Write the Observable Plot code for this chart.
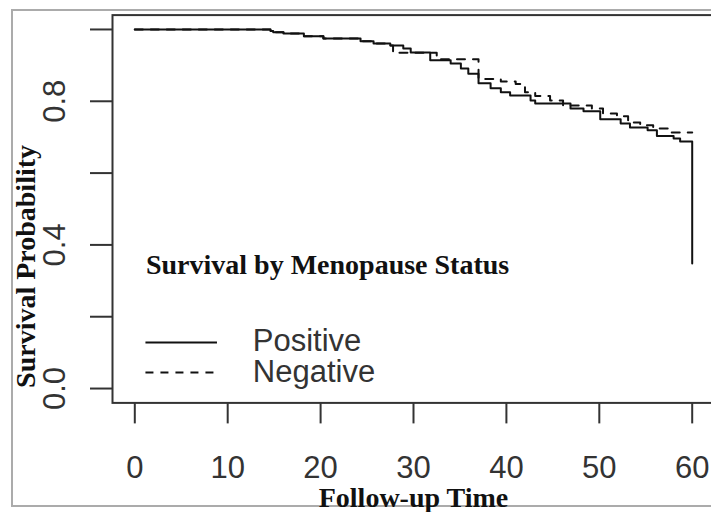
<!DOCTYPE html>
<html><head><meta charset="utf-8">
<script src="https://cdn.jsdelivr.net/npm/d3@7"></script>
<script src="https://cdn.jsdelivr.net/npm/@observablehq/plot@0.6"></script>
<style>
html,body{margin:0;padding:0;background:#fff;}
#wrap{position:relative;width:711px;height:512px;overflow:hidden;background:#fff;}
#border{position:absolute;left:11px;top:9px;width:720px;height:494px;border:2px solid #ababab;z-index:0;}
#chart{position:absolute;left:0;top:0;z-index:1;}
</style></head><body><div id="wrap"><div id="border"></div><div id="chart"></div></div>
<script>
// Kaplan-Meier step data (time, survival probability)
const positiveTime = [0, 14.6, 14.9, 16.0, 18.2, 20.3, 24.3, 25.7, 27.5, 28.9, 29.7, 31.8, 34.0, 35.1, 35.9, 37.0, 38.3, 39.4, 40.4, 42.6, 43.1, 46.9, 48.3, 50.1, 52.3, 53.3, 55.2, 56.2, 58.0, 58.7, 60, 60];
const positiveSurv = [1, 0.996, 0.992, 0.989, 0.981, 0.975, 0.967, 0.961, 0.955, 0.947, 0.936, 0.914, 0.905, 0.891, 0.877, 0.850, 0.836, 0.825, 0.816, 0.802, 0.794, 0.780, 0.772, 0.750, 0.738, 0.727, 0.719, 0.703, 0.696, 0.688, 0.688, 0.348];
const negativeTime = [0, 14.6, 14.9, 16.0, 18.2, 20.3, 24.3, 25.7, 27.5, 27.8, 32.5, 37.0, 39.4, 41.0, 42.0, 43.1, 44.7, 46.1, 49.2, 50.4, 51.9, 53.1, 54.4, 55.8, 57.6, 60];
const negativeSurv = [1, 0.996, 0.992, 0.989, 0.981, 0.975, 0.967, 0.961, 0.955, 0.935, 0.917, 0.862, 0.855, 0.848, 0.825, 0.815, 0.802, 0.788, 0.780, 0.766, 0.758, 0.741, 0.733, 0.724, 0.713, 0.713];
const groups = ["Positive", "Negative"];
const xTicks = [0, 10, 20, 30, 40, 50, 60];
const yTicks = [0, 0.2, 0.4, 0.6, 0.8, 1.0];
const yTickLabels = ["0.0", "", "0.4", "", "0.8", ""];
const chartTitle = "Survival by Menopause Status";
const xTitle = "Follow-up Time";
const yTitle = "Survival Probability";

const positive = positiveTime.map((t, i) => ({time: t, surv: positiveSurv[i]}));
const negative = negativeTime.map((t, i) => ({time: t, surv: negativeSurv[i]}));
const yLabelMap = new Map(yTicks.map((t, i) => [t, yTickLabels[i]]));

const SANS = "Liberation Sans, Arial, sans-serif";
const SERIF = "Liberation Serif, Times New Roman, serif";
const INK = "#333";

const chart = Plot.plot({
  width: 711,
  height: 512,
  marginLeft: 112,
  marginRight: -3,
  marginTop: 14.6,
  marginBottom: 109.6,
  style: {background: "transparent", overflow: "visible"},
  x: {domain: [-2.4, 62.4]},
  y: {domain: [-0.04, 1.04]},
  marks: [
    Plot.axisX(xTicks, {tickSize: 21, tickPadding: 32, fontSize: 31, fontFamily: SANS, color: INK, strokeWidth: 2, label: null}),
    Plot.axisY(yTicks, {tickSize: 22, tickPadding: 26, tickRotate: -90, tickFormat: d => yLabelMap.get(d), fontSize: 31, fontFamily: SANS, color: INK, strokeWidth: 2, label: null}),
    Plot.line(positive, {x: "time", y: "surv", curve: "step-after", stroke: "#111", strokeWidth: 2}),
    Plot.line(negative, {x: "time", y: "surv", curve: "step-after", stroke: "#111", strokeWidth: 2, strokeDasharray: "8,8"}),
    // legend
    Plot.text([chartTitle], {x: 1.2, y: 0.344, text: d => d, textAnchor: "start", fontFamily: SERIF, fontWeight: "bold", fontSize: 28, fill: "#111"}),
    Plot.ruleY([groups[0]], {y: 0.128, x1: 1.2, x2: 8.9, stroke: "#111", strokeWidth: 2}),
    Plot.ruleY([groups[1]], {y: 0.0446, x1: 1.2, x2: 8.9, stroke: "#111", strokeWidth: 2, strokeDasharray: "8,7"}),
    Plot.text(groups, {x: 12.7, y: (d, i) => 0.131 - i * 0.0864, text: d => d, textAnchor: "start", fontFamily: SANS, fontSize: 31, fill: INK}),
    // axis titles
    Plot.text([xTitle], {frameAnchor: "bottom", dy: 103.6, lineAnchor: "bottom", text: d => d, fontFamily: SERIF, fontWeight: "bold", fontSize: 28, fill: "#111"}),
    Plot.text([yTitle], {y: 0.34, frameAnchor: "left", dx: -77.5, rotate: -90, textAnchor: "middle", lineAnchor: "bottom", text: d => d, fontFamily: SERIF, fontWeight: "bold", fontSize: 28, fill: "#111"}),
    Plot.frame({stroke: INK, strokeWidth: 2})
  ]
});
document.getElementById("chart").appendChild(chart);
</script>
</body></html>
